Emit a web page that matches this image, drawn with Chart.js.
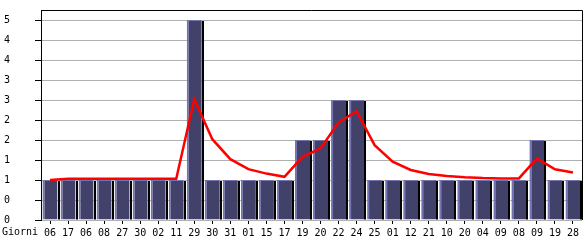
<!DOCTYPE html>
<html>
<head>
<meta charset="utf-8">
<script src="https://cdn.jsdelivr.net/npm/chart.js@4/dist/chart.umd.min.js"></script>
<style>
    body { margin: 0; background: #fff; }
    canvas { display: block; }
</style>
</head>
<body>
<canvas id="chart" width="585" height="240"></canvas>
<script>
// ==================== DATA ====================

const days = ['06', '17', '06', '08', '27', '30', '02', '11', '29', '30',
              '31', '01', '15', '17', '19', '20', '22', '24', '25', '01',
              '12', '21', '10', '20', '04', '09', '08', '09', '19', '28'];

const visits = [1, 1, 1, 1, 1, 1, 1, 1, 5, 1,
                1, 1, 1, 1, 2, 2, 3, 3, 1, 1,
                1, 1, 1, 1, 1, 1, 1, 2, 1, 1];

const trend = [1.0, 1.03, 1.03, 1.03, 1.03, 1.03, 1.03, 1.03, 3.02, 2.02,
               1.52, 1.27, 1.16, 1.08, 1.58, 1.79, 2.44, 2.72, 1.87, 1.46,
               1.25, 1.15, 1.1, 1.07, 1.05, 1.04, 1.04, 1.54, 1.27, 1.19];

const yTicks = [0, 0.5, 1, 1.5, 2, 2.5, 3, 3.5, 4, 4.5, 5];

// ==================== PLUGINS ====================

// black shadow on the right side of each bar
const barShadow = {
    id: 'barShadow',
    afterDatasetDraw(chart, args) {
        if (args.index !== 0) return;
        const ctx = chart.ctx;
        ctx.save();
        ctx.fillStyle = '#000';
        args.meta.data.forEach(bar => {
            const right = bar.x + bar.width / 2;
            ctx.fillRect(Math.round(right), Math.round(bar.y) + 1, 2, bar.base - bar.y - 1);
        });
        ctx.restore();
    }
};

// top + right frame and the "Giorni" caption
const frame = {
    id: 'frame',
    afterDraw(chart) {
        const ctx = chart.ctx;
        const area = chart.chartArea;
        ctx.save();
        ctx.strokeStyle = '#000';
        ctx.lineWidth = 1;
        ctx.beginPath();
        ctx.moveTo(area.left, Math.round(area.top) + 0.5);
        ctx.lineTo(Math.round(area.right) + 0.5, Math.round(area.top) + 0.5);
        ctx.lineTo(Math.round(area.right) + 0.5, area.bottom);
        ctx.stroke();

        ctx.fillStyle = '#000';
        ctx.font = '10px "DejaVu Sans Mono"';
        ctx.textBaseline = 'middle';
        ctx.textAlign = 'left';
        ctx.fillText('Giorni', 2, chart.scales.x.top + 12);
        ctx.restore();
    }
};

// ==================== CHART ====================

Chart.defaults.font.family = '"DejaVu Sans Mono", monospace';
Chart.defaults.font.size = 10;
Chart.defaults.color = '#000';

new Chart(document.getElementById('chart'), {
    data: {
        labels: days,
        datasets: [{
            type: 'bar',
            data: visits,
            backgroundColor: '#414169',
            borderColor: '#7474b4',
            borderWidth: { left: 2, top: 1, right: 0, bottom: 0 },
            borderSkipped: false,
            barPercentage: 15 / 18,
            categoryPercentage: 1,
            order: 1
        }, {
            type: 'line',
            data: trend,
            borderColor: '#ff0000',
            borderWidth: 2.5,
            pointRadius: 0,
            tension: 0,
            fill: false,
            order: 0
        }]
    },
    options: {
        responsive: false,
        animation: false,
        layout: { padding: { top: 10, right: 3, left: 4, bottom: 0 } },
        plugins: {
            legend: { display: false },
            tooltip: { enabled: false }
        },
        scales: {
            x: {
                afterFit: scale => { scale.height = 20; },
                border: { display: false },
                grid: {
                    offset: false,
                    drawOnChartArea: false,
                    drawTicks: true,
                    tickLength: 4,
                    tickColor: '#000'
                },
                ticks: { padding: 3, maxRotation: 0, autoSkip: false }
            },
            y: {
                min: 0,
                max: 5.25,
                afterFit: scale => { scale.width = 37; },
                afterBuildTicks: scale => {
                    scale.ticks = yTicks.map(v => ({ value: v }));
                },
                border: { display: true, color: '#000', width: 1 },
                grid: {
                    color: '#b0b0b0',
                    tickColor: '#000',
                    tickLength: 6
                },
                ticks: {
                    crossAlign: 'far',
                    callback: v => Math.floor(v)
                }
            }
        }
    },
    plugins: [barShadow, frame]
});
</script>
</body>
</html>
